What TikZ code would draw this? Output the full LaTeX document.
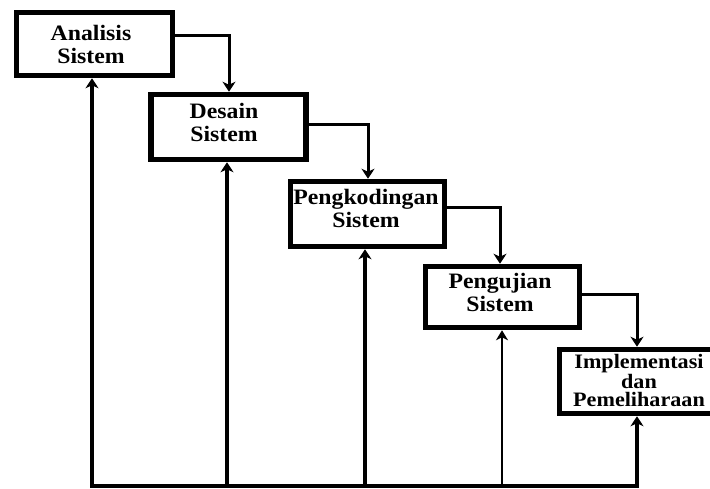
\documentclass[tikz,border=0pt]{standalone}
\usepackage{fontspec}
\setmainfont{Liberation Serif}[FakeStretch=1.08]
\usetikzlibrary{arrows.meta}
\begin{document}
\begin{tikzpicture}[x=1pt,y=-1pt,
  box/.style={draw=black,line width=5.5pt,fill=white,inner sep=0pt,outer sep=2.75pt},
  lbl/.style={font=\bfseries\fontsize{22}{23}\selectfont,align=center,inner sep=0pt},
  conn/.style={line width=3pt,-{Stealth[length=10pt,width=13pt,inset=3pt]}},
  fb/.style={line width=3.2pt,-{Stealth[length=10pt,width=13pt,inset=3pt]}},
  fbthin/.style={line width=1.8pt,-{Stealth[length=10pt,width=12pt,inset=3pt]}},
  base/.style={line width=3.2pt}]
\useasboundingbox (0,0) rectangle (710,489);
% boxes
\node[box,minimum width=156pt,minimum height=63pt] (b1) at (94.5,44) {};
\node[box,minimum width=155pt,minimum height=65pt] (b2) at (228.5,127) {};
\node[box,minimum width=154pt,minimum height=65pt] (b3) at (367.5,214) {};
\node[box,minimum width=154pt,minimum height=61pt] (b4) at (502.5,297) {};
\node[box,minimum width=163pt,minimum height=64pt] (b5) at (641,381.5) {};
% texts
\node[lbl] (t1) at (91,44) {Analisis\\Sistem};
\node[lbl] (t2) at (224,122) {Desain\\Sistem};
\node[lbl] (t3) at (366,208.5) {Pengkodingan\\Sistem};
\node[lbl] (t4) at (500,292) {Pengujian\\Sistem};
\node[lbl,font=\bfseries\fontsize{20.5}{17.5}\selectfont] (t5) at (639,380.5) {Implementasi\\dan\\Pemeliharaan};
% forward connectors
\draw[conn] (b1.east |- 0,36) -| (b2.north -| 229,0);
\draw[conn] (b2.east |- 0,125) -| (b3.north -| 368,0);
\draw[conn] (b3.east |- 0,208) -| (b4.north -| 500,0);
\draw[conn] (b4.east |- 0,295) -| (b5.north -| 637,0);
% feedback
\coordinate (f1) at (92,486);
\coordinate (f2) at (227,486);
\coordinate (f3) at (365,486);
\coordinate (f4) at (502,486);
\coordinate (f5) at (637,486);
\draw[base] ([xshift=-1.6pt]f1) -- ([xshift=1.6pt]f5);
\draw[fb] (f1) -- (f1 |- b1.south);
\draw[fb] (f2) -- (f2 |- b2.south);
\draw[fb] (f3) -- (f3 |- b3.south);
\draw[fbthin] (f4) -- (f4 |- b4.south);
\draw[fb] (f5) -- (f5 |- b5.south);
\end{tikzpicture}
\end{document}
